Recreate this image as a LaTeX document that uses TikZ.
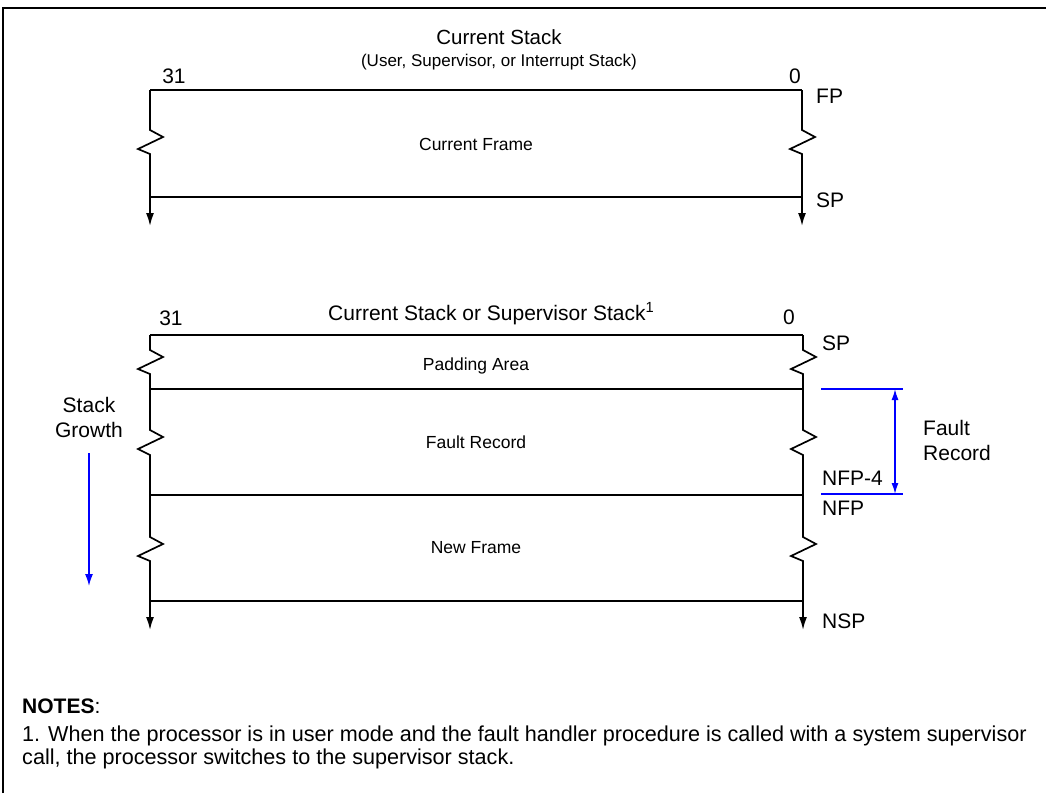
\documentclass[tikz,border=0pt]{standalone}
\usepackage{fontspec}
\setmainfont{Liberation Sans}
\usetikzlibrary{arrows.meta}

\definecolor{growblue}{RGB}{0,0,255}

\newcommand{\fsz}[1]{\fontsize{#1}{1.2\dimexpr#1pt\relax}\selectfont}

\begin{document}
\begin{tikzpicture}[x=1pt,y=-1pt,
  wall/.style={line width=1.7pt,line join=miter},
  rule/.style={line width=1.7pt},
  down/.style={wall,-{Latex[length=13pt,width=8pt]}},
  blueline/.style={draw=growblue,line width=1.5pt},
  bluearrow/.style={draw=growblue,line width=1.5pt,{Latex[length=11pt,width=7pt]}-{Latex[length=11pt,width=7pt]}},
  growarrow/.style={draw=growblue,line width=1.5pt,-{Latex[length=12pt,width=8pt]}},
  lbl/.style={inner sep=0pt,font=\fsz{21}},
  inlbl/.style={inner sep=0pt,font=\fsz{17.5}},
]
\useasboundingbox (0,0) rectangle (1046,793);

% outer frame (top and left edges)
\draw[line width=2pt] (3,793) -- (3,8) -- (1046,8);

% ---------- upper stack ----------
\coordinate (tTL) at (150,90);
\coordinate (tTR) at (802,90);
\coordinate (tBL) at (150,197);
\coordinate (tBR) at (802,197);
\coordinate (tLend) at (150,226);
\coordinate (tRend) at (802,226);

\draw[rule] (tTL) -- (tTR);
\draw[rule] (tBL) -- (tBR);
\draw[down] (tTL) -- (150,130) -- (163,137) -- (138,149) -- (150,154) -- (tLend);
\draw[down] (tTR) -- (802,130) -- (815,137) -- (790,149) -- (802,154) -- (tRend);

\node[lbl,anchor=base,font=\fsz{20.5}] (ttitle) at (499,44) {Current Stack};
\node[inlbl,anchor=base,font=\fsz{17}] (tsub) at (499,66) {(User, Supervisor, or Interrupt Stack)};
\node[lbl,anchor=base] (t31) at (174,83) {31};
\node[lbl,anchor=base] (t0) at (795,83) {0};
\node[lbl,anchor=base west] (tfp) at (816,103) {FP};
\node[lbl,anchor=base west] (tsp) at (816,207) {SP};
\node[inlbl] (curframe) at (476,144) {Current Frame};

% ---------- lower stack ----------
\coordinate (bTL) at (150,335);
\coordinate (bTR) at (803,335);
\coordinate (b1L) at (150,389);
\coordinate (b1R) at (803,389);
\coordinate (b2L) at (150,495);
\coordinate (b2R) at (803,495);
\coordinate (bBL) at (150,601);
\coordinate (bBR) at (803,601);
\coordinate (bLend) at (150,630);
\coordinate (bRend) at (803,630);

\draw[rule] (bTL) -- (bTR);
\draw[rule] (b1L) -- (b1R);
\draw[rule] (b2L) -- (b2R);
\draw[rule] (bBL) -- (bBR);
\draw[down] (bTL) -- (150,350) -- (163,357) -- (138,369) -- (150,374)
  -- (150,430) -- (163,437) -- (138,449) -- (150,455)
  -- (150,537) -- (163,544) -- (138,556) -- (150,561) -- (bLend);
\draw[down] (bTR) -- (803,350) -- (816,357) -- (791,369) -- (803,374)
  -- (803,430) -- (816,437) -- (791,449) -- (803,455)
  -- (803,537) -- (816,544) -- (791,556) -- (803,561) -- (bRend);

\node[lbl,anchor=base west] (btitle) at (328,320) {Current Stack or Supervisor Stack\textsuperscript{1}};
\node[lbl,anchor=base] (b31) at (171,325) {31};
\node[lbl,anchor=base] (b0) at (789,324) {0};
\node[lbl,anchor=base west] (bsp) at (822,350) {SP};
\node[lbl,anchor=base west] (nfp4) at (822,485) {NFP-4};
\node[lbl,anchor=base west] (nfp) at (822,515) {NFP};
\node[lbl,anchor=base west] (nsp) at (822,628) {NSP};
\node[inlbl] (padding) at (476,366) {Padding Area};
\node[inlbl] (fault) at (476,442) {Fault Record};
\node[inlbl] (newframe) at (476,548) {New Frame};

% fault record extent
\coordinate (frTopL) at (821,389);
\coordinate (frTopR) at (903,389);
\coordinate (frBotL) at (821,494);
\coordinate (frBotR) at (903,494);
\coordinate (frArrTop) at (895,389);
\coordinate (frArrBot) at (895,494);
\draw[blueline] (frTopL) -- (frTopR);
\draw[blueline] (frBotL) -- (frBotR);
\draw[bluearrow] (frArrTop) -- (frArrBot);
\node[lbl,anchor=base west] (frlabel) at (923,435) {Fault};
\node[lbl,anchor=base west] (frlabel2) at (923,460) {Record};

% stack growth indicator
\node[lbl,anchor=base] (growA) at (89,412) {Stack};
\node[lbl,anchor=base] (growB) at (89,437) {Growth};
\coordinate (growTop) at (89,453);
\coordinate (growBot) at (89,586);
\draw[growarrow] (growTop) -- (growBot);

% ---------- notes ----------
\node[inner sep=0pt,anchor=base west,font=\fsz{21}] (notes) at (22,713) {\textbf{NOTES}:};
\node[inner sep=0pt,anchor=base west,font=\fsz{21.6}] (note1) at (22,741)
  {1. When the processor is in user mode and the fault handler procedure is called with a system supervisor};
\node[inner sep=0pt,anchor=base west,font=\fsz{21.6}] (note2) at (22,764)
  {call, the processor switches to the supervisor stack.};
\end{tikzpicture}
\end{document}
